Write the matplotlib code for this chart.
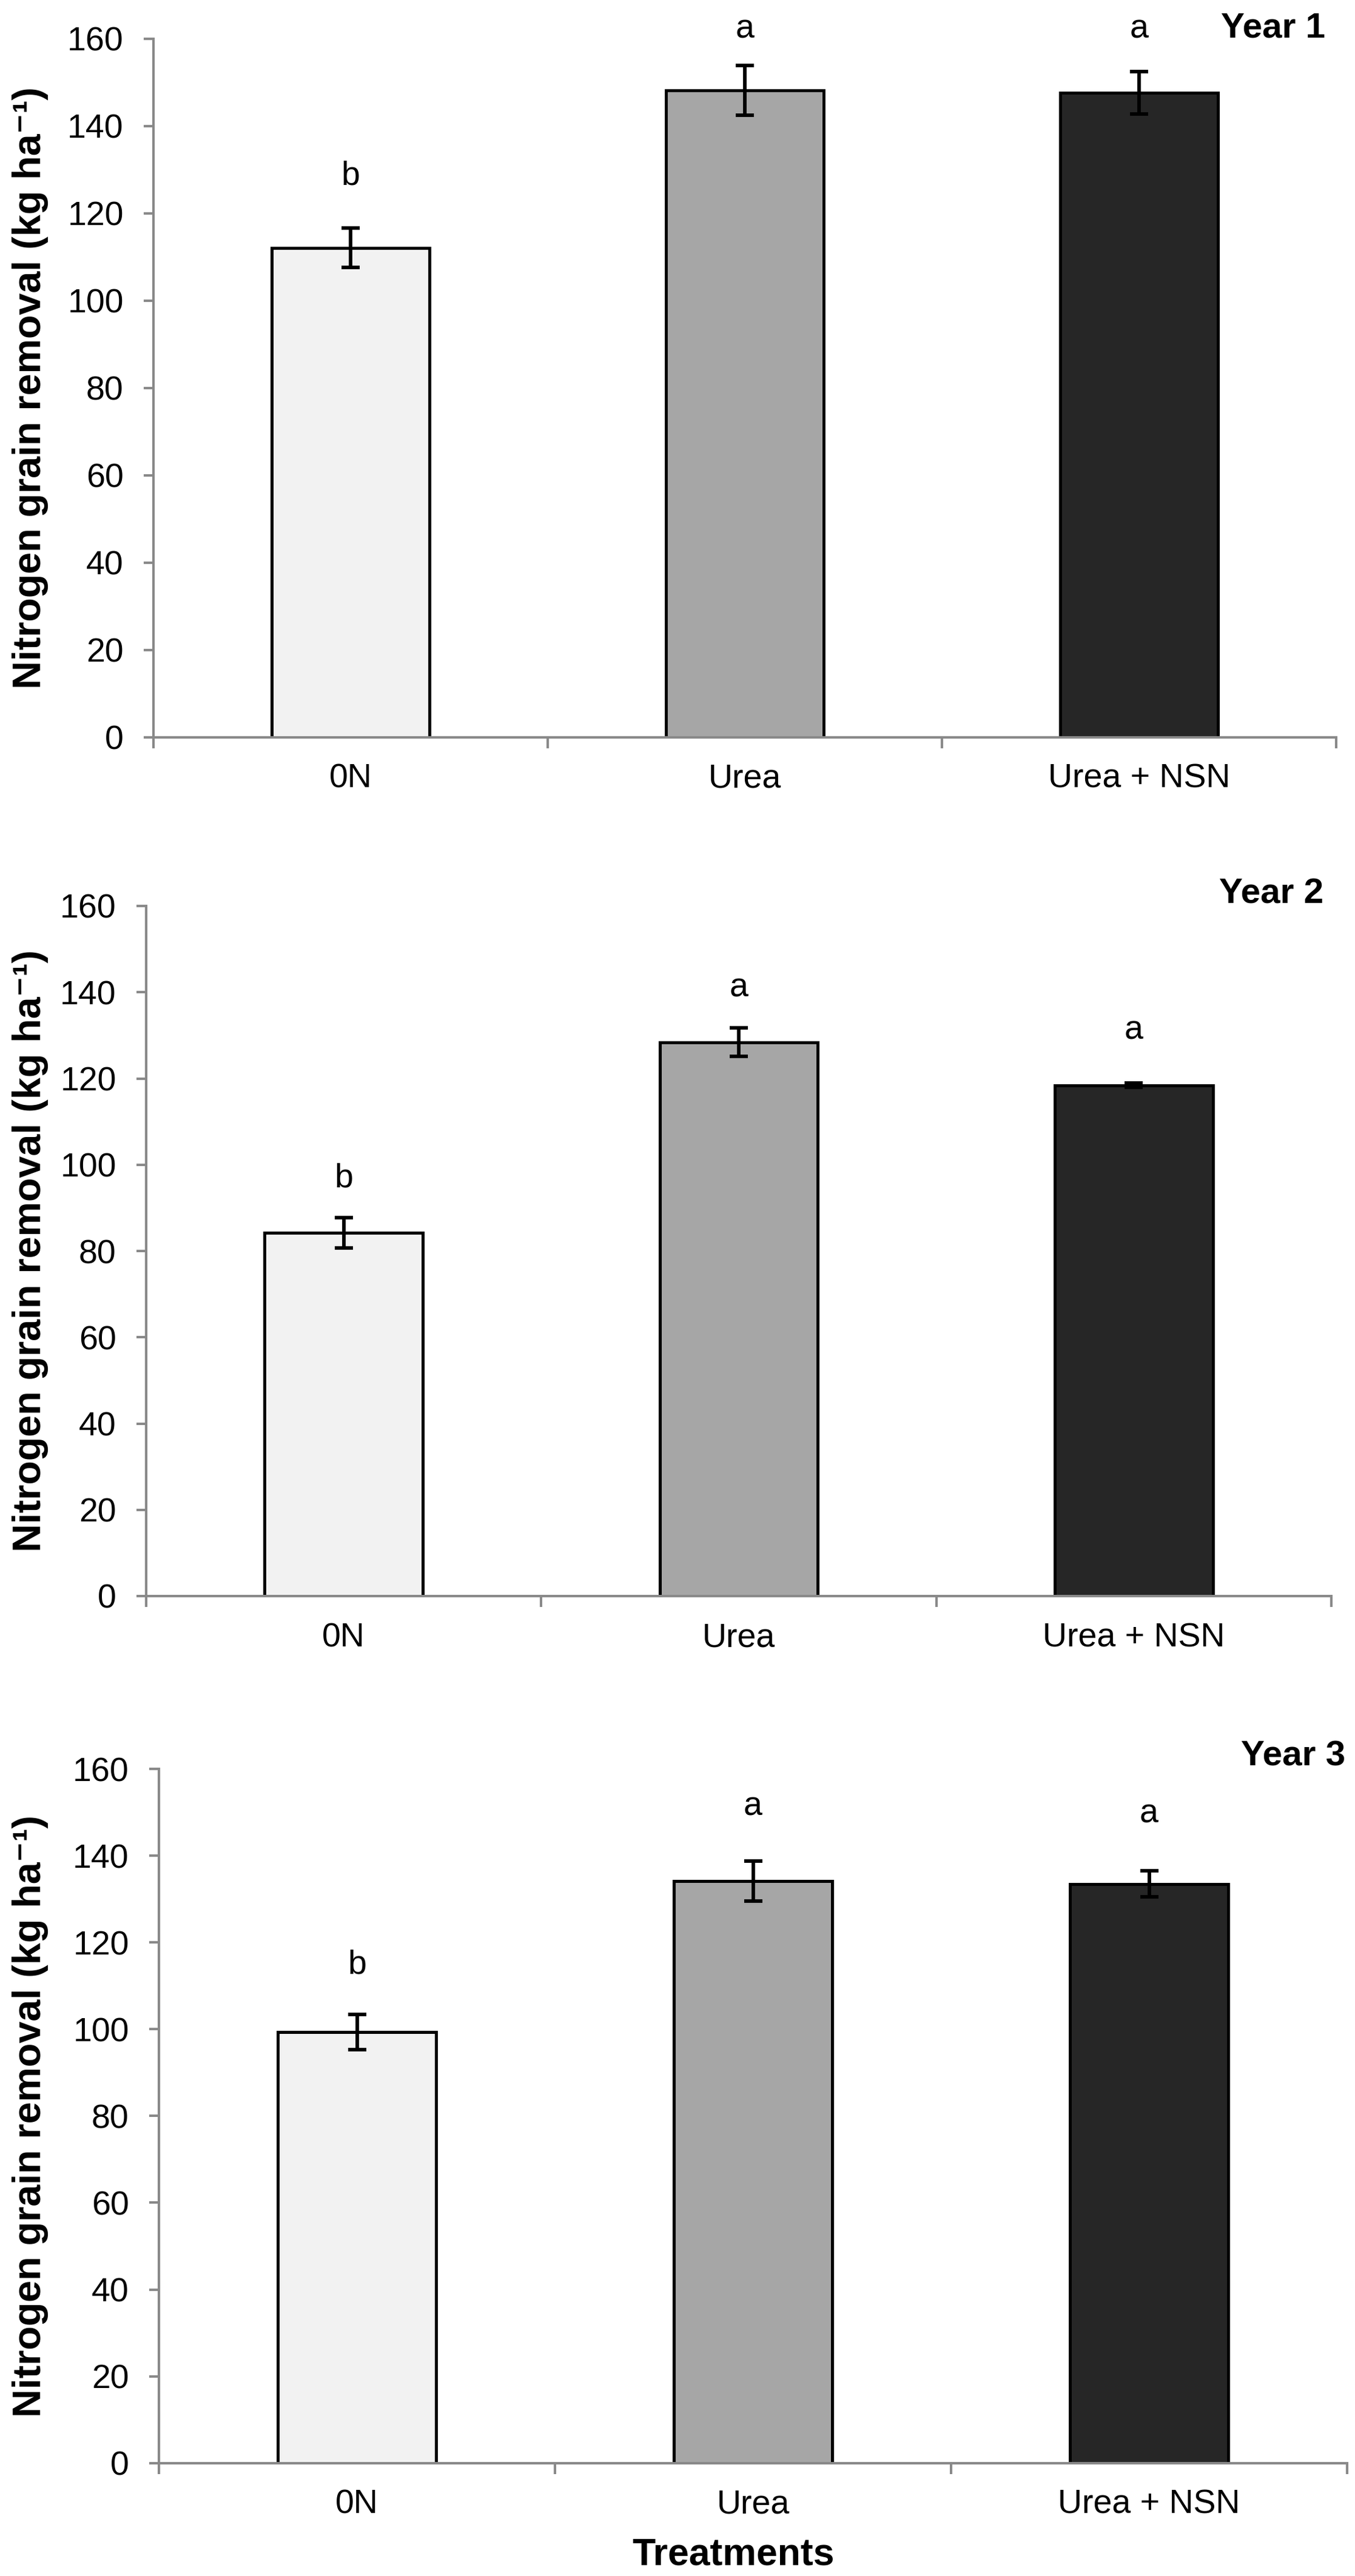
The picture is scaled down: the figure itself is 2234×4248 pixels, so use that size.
import matplotlib
matplotlib.use("Agg")
import matplotlib.pyplot as plt
import numpy as np

plt.rcParams['font.family'] = ['Liberation Sans', 'DejaVu Sans']

W, H = 2234, 4248
DPI = 100

treatments = ["0N", "Urea", "Urea + NSN"]
years = ["Year 1", "Year 2", "Year 3"]
means = [
    [112.1, 148.2, 147.6],
    [84.2, 128.4, 118.4],
    [99.3, 134.1, 133.5],
]
errors = [
    [4.55, 5.7, 4.9],
    [3.5, 3.3, 0.5],
    [4.05, 4.6, 3.0],
]
letters = [
    ["b", "a", "a"],
    ["b", "a", "a"],
    ["b", "a", "a"],
]
letter_baseline = [
    [126.5, 160.1, 160.1],
    [94.9, 139.0, 129.1],
    [112.8, 149.3, 147.6],
]
bar_colors = ["#F2F2F2", "#A6A6A6", "#262626"]
yticks = [0, 20, 40, 60, 80, 100, 120, 140, 160]

# axes boxes in pixels: left, right, top(y=160), bottom(y=0)
boxes = [
    (253, 2203, 63.7, 1215.7),
    (241, 2195, 1494, 2632),
    (262, 2221, 2917, 4061.7),
]
year_pos = [(2185, 62), (2182, 1490), (2218, 2912)]

fig = plt.figure(figsize=(W / DPI, H / DPI), dpi=DPI)
axis_gray = "#898989"

for i in range(3):
    l, r, t, b = boxes[i]
    ax = fig.add_axes([l / W, (H - b) / H, (r - l) / W, (b - t) / H])
    x = np.arange(len(treatments))
    ax.bar(x, means[i], width=0.4, color=bar_colors, edgecolor="black",
           linewidth=3.6, zorder=2)
    ax.errorbar(x, means[i], yerr=errors[i], fmt="none", ecolor="black",
                elinewidth=4.2, capsize=10.5, capthick=4.2, zorder=3)
    for j in range(3):
        ax.text(x[j], letter_baseline[i][j], letters[i][j], ha="center",
                va="baseline", fontsize=40, clip_on=False)
    ax.set_xlim(-0.5, 2.5)
    ax.set_ylim(0, 160)
    ax.set_yticks(yticks)
    ax.set_yticklabels([str(v) for v in yticks])
    ax.set_xticks(x)
    ax.set_xticklabels(treatments)
    ax.set_xticks([-0.5, 0.5, 1.5, 2.5], minor=True)
    ax.tick_params(axis="x", which="major", length=0, pad=31, labelsize=40)
    ax.tick_params(axis="x", which="minor", length=13, width=2.9,
                   color=axis_gray, direction="out")
    ax.tick_params(axis="y", which="major", length=11.5, width=2.9,
                   color=axis_gray, direction="out", pad=24, labelsize=40)
    for s in ["top", "right"]:
        ax.spines[s].set_visible(False)
    for s in ["left", "bottom"]:
        ax.spines[s].set_color(axis_gray)
        ax.spines[s].set_linewidth(2.9)
    ax.set_facecolor("none")
    # y label
    fig.text(50 / W, (H - (t + b) / 2) / H,
             "Nitrogen grain removal (kg ha\u207B\u00B9)",
             rotation=90, ha="center", va="center", fontsize=46.5,
             fontweight="bold")
    yx, yy = year_pos[i]
    fig.text(yx / W, (H - yy) / H, years[i], ha="right", va="baseline",
             fontsize=42, fontweight="bold")

fig.text(1209 / W, (H - 4230) / H, "Treatments", ha="center",
         va="baseline", fontsize=45, fontweight="bold")

fig.savefig("out.png", dpi=DPI, facecolor="white")
